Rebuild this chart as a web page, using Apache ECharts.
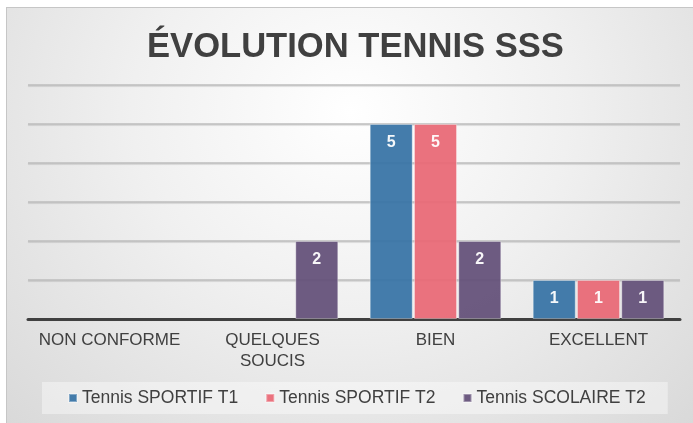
<!DOCTYPE html>
<html>
<head>
<meta charset="utf-8">
<script src="https://cdn.jsdelivr.net/npm/echarts@6/dist/echarts.min.js"></script>
<style>
  html, body { margin: 0; padding: 0; background: #fff; }
  #bg {
    position: absolute; left: 6px; top: 7px; width: 687px; height: 416px;
    border-left: 1px solid #c6c6c6; border-top: 1px solid #c6c6c6;
    background: radial-gradient(ellipse at 50% 25%, #ffffff 0%, #f0f0f0 45%, #d9d9d9 100%);
  }
  #chart { position: absolute; left: 0; top: 0; width: 693px; height: 423px; }
</style>
</head>
<body>
<div id="bg"></div>
<div id="chart"></div>
<script>
const categories = ['NON CONFORME', 'QUELQUES\nSOUCIS', 'BIEN', 'EXCELLENT']
const seriesNames = ['Tennis SPORTIF T1', 'Tennis SPORTIF T2', 'Tennis SCOLAIRE T2']
const sportifT1 = [null, null, 5, 1]
const sportifT2 = [null, null, 5, 1]
const scolaireT2 = [null, 2, 2, 1]
const colors = ['#3a75a7', '#e96a77', '#65527a']

const chart = echarts.init(document.getElementById('chart'))

const makeSeries = (name, data, color) => ({
  name,
  type: 'bar',
  data,
  barWidth: 43,
  barGap: '3%',
  itemStyle: { color, opacity: 0.95, borderColor: 'rgba(255,255,255,0.35)', borderWidth: 1 },
  label: {
    show: true,
    position: 'insideTop',
    distance: 11,
    color: '#fff',
    fontWeight: 'bold',
    fontSize: 16,
    fontFamily: 'Liberation Sans'
  }
})

chart.setOption({
  backgroundColor: 'transparent',
  color: colors,
  title: {
    text: 'ÉVOLUTION TENNIS SSS',
    left: 142,
    top: 25,
    textStyle: { fontFamily: 'Liberation Sans', fontSize: 34.6, fontWeight: 'bold', color: '#404040' }
  },
  legend: {
    data: seriesNames,
    left: 42,
    top: 382,
    icon: 'rect',
    itemWidth: 8,
    itemHeight: 8,
    itemGap: 27,
    padding: [7, 22, 7, 26],
    backgroundColor: 'rgba(255,255,255,0.4)',
    textStyle: { fontFamily: 'Liberation Sans', fontSize: 17.5, color: '#404040' }
  },
  grid: { left: 28, right: 13, top: 85, bottom: 104 },
  xAxis: {
    type: 'category',
    data: categories,
    axisLine: { lineStyle: { color: '#404040', width: 3 } },
    axisTick: { show: false },
    axisLabel: {
      margin: 11,
      lineHeight: 21,
      fontFamily: 'Liberation Sans',
      fontSize: 17,
      color: '#404040',
      interval: 0
    }
  },
  yAxis: {
    type: 'value',
    min: 0,
    max: 6,
    interval: 1,
    axisLabel: { show: false },
    axisLine: { show: false },
    axisTick: { show: false },
    splitLine: {
      lineStyle: { color: '#bdbdbd', width: 1.5, shadowColor: 'rgba(0,0,0,0.15)', shadowOffsetY: 1, shadowBlur: 1 }
    }
  },
  series: [
    makeSeries(seriesNames[0], sportifT1, colors[0]),
    makeSeries(seriesNames[1], sportifT2, colors[1]),
    makeSeries(seriesNames[2], scolaireT2, colors[2])
  ]
})
</script>
</body>
</html>
